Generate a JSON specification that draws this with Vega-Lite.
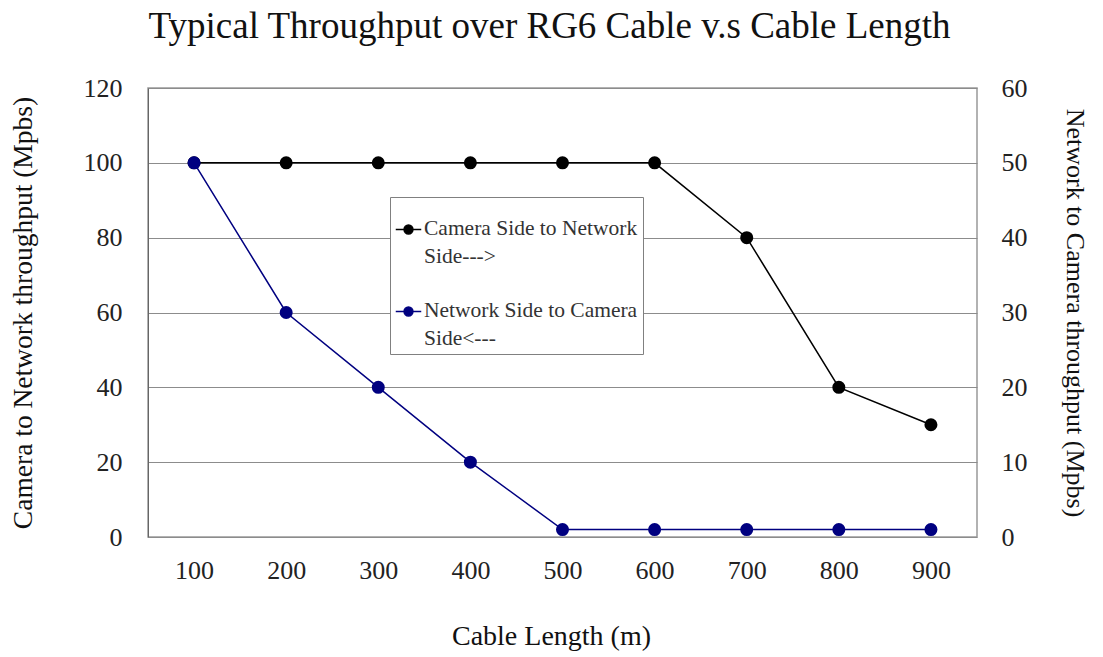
{
  "$schema": "https://vega.github.io/schema/vega-lite/v6.json",
  "width": 829,
  "height": 449,
  "autosize": {"type": "none"},
  "padding": {"left": 148, "top": 88, "right": 126, "bottom": 120},
  "background": "white",
  "title": {
    "text": "Typical Throughput over RG6 Cable v.s Cable Length",
    "fontSize": 37,
    "font": "Liberation Serif",
    "fontWeight": "normal",
    "color": "#111111",
    "frame": "group",
    "anchor": "middle",
    "offset": 29,
    "dx": -13
  },
  "data": {
    "values": [
      {"series": "Camera Side to Network Side--->", "length": 100, "value": 100},
      {"series": "Camera Side to Network Side--->", "length": 200, "value": 100},
      {"series": "Camera Side to Network Side--->", "length": 300, "value": 100},
      {"series": "Camera Side to Network Side--->", "length": 400, "value": 100},
      {"series": "Camera Side to Network Side--->", "length": 500, "value": 100},
      {"series": "Camera Side to Network Side--->", "length": 600, "value": 100},
      {"series": "Camera Side to Network Side--->", "length": 700, "value": 80},
      {"series": "Camera Side to Network Side--->", "length": 800, "value": 40},
      {"series": "Camera Side to Network Side--->", "length": 900, "value": 30},
      {"series": "Network Side to Camera Side<---", "length": 100, "value": 50},
      {"series": "Network Side to Camera Side<---", "length": 200, "value": 30},
      {"series": "Network Side to Camera Side<---", "length": 300, "value": 20},
      {"series": "Network Side to Camera Side<---", "length": 400, "value": 10},
      {"series": "Network Side to Camera Side<---", "length": 500, "value": 1},
      {"series": "Network Side to Camera Side<---", "length": 600, "value": 1},
      {"series": "Network Side to Camera Side<---", "length": 700, "value": 1},
      {"series": "Network Side to Camera Side<---", "length": 800, "value": 1},
      {"series": "Network Side to Camera Side<---", "length": 900, "value": 1}
    ]
  },
  "encoding": {
    "x": {
      "field": "length",
      "type": "ordinal",
      "scale": {"type": "point", "padding": 0.5},
      "axis": {
        "title": "Cable Length (m)",
        "labelAngle": 0,
        "ticks": false,
        "domain": false,
        "grid": false,
        "labelPadding": 20,
        "titlePadding": 39,
        "titleFontSize": 28,
        "titleX": 403
      }
    },
    "color": {
      "field": "series",
      "type": "nominal",
      "scale": {
        "domain": ["Camera Side to Network Side--->", "Network Side to Camera Side<---"],
        "range": ["#000000", "#000080"]
      },
      "legend": {
        "title": " ",
        "titleFontSize": 8,
        "titlePadding": 6,
        "orient": "none",
        "legendX": 242,
        "legendY": 109,
        "direction": "vertical",
        "fillColor": "white",
        "strokeColor": "#808080",
        "padding": 5,
        "labelFontSize": 21.5,
        "labelFont": "Liberation Serif",
        "labelColor": "#333333",
        "labelLimit": 400,
        "labelBaseline": "top",
        "labelOffset": 2,
        "labelExpr": "datum.label === 'Camera Side to Network Side--->' ? ['Camera Side to Network', 'Side--->'] : ['Network Side to Camera', 'Side<---']",
        "symbolType": "M-1,0L1,0M-0.35,0A0.35,0.35,0,1,1,0.35,0A0.35,0.35,0,1,1,-0.35,0Z",
        "symbolSize": 650,
        "symbolStrokeWidth": 1.5,
        "rowPadding": 31,
        "encode": {
          "symbols": {"update": {"fill": {"scale": "color", "field": "value"}}},
          "labels": {"update": {"lineHeight": {"value": 28}, "dy": {"value": -12}}}
        }
      }
    }
  },
  "layer": [
    {
      "transform": [{"filter": "datum.series === 'Camera Side to Network Side--->'"}],
      "mark": {"type": "line", "strokeWidth": 1.5, "point": {"filled": true, "size": 170}},
      "encoding": {
        "y": {
          "field": "value",
          "type": "quantitative",
          "scale": {"domain": [0, 120]},
          "axis": {
            "orient": "left",
            "title": "Camera to Network throughput (Mpbs)",
            "values": [0, 20, 40, 60, 80, 100, 120],
            "grid": true,
            "ticks": false,
            "domain": true,
            "domainColor": "#666666",
            "labelPadding": 26,
            "titlePadding": 46,
            "titleFontSize": 27.5
          }
        }
      }
    },
    {
      "transform": [{"filter": "datum.series === 'Network Side to Camera Side<---'"}],
      "mark": {"type": "line", "strokeWidth": 1.5, "point": {"filled": true, "size": 170}},
      "encoding": {
        "y": {
          "field": "value",
          "type": "quantitative",
          "scale": {"domain": [0, 60]},
          "axis": {
            "orient": "right",
            "title": "Network to Camera throughput (Mpbs)",
            "values": [0, 10, 20, 30, 40, 50, 60],
            "grid": false,
            "ticks": false,
            "domain": false,
            "labelPadding": 24,
            "titlePadding": 34,
            "titleFontSize": 26
          }
        }
      }
    }
  ],
  "resolve": {"scale": {"y": "independent"}},
  "config": {
    "font": "Liberation Serif",
    "view": {"stroke": "#999999", "strokeWidth": 1.5},
    "axis": {
      "labelFont": "Liberation Serif",
      "titleFont": "Liberation Serif",
      "labelFontSize": 26,
      "titleFontSize": 24,
      "titleFontWeight": "normal",
      "labelColor": "#222222",
      "titleColor": "#111111",
      "gridColor": "#8c8c8c",
      "gridWidth": 1,
      "gridOpacity": 1
    }
  }
}
